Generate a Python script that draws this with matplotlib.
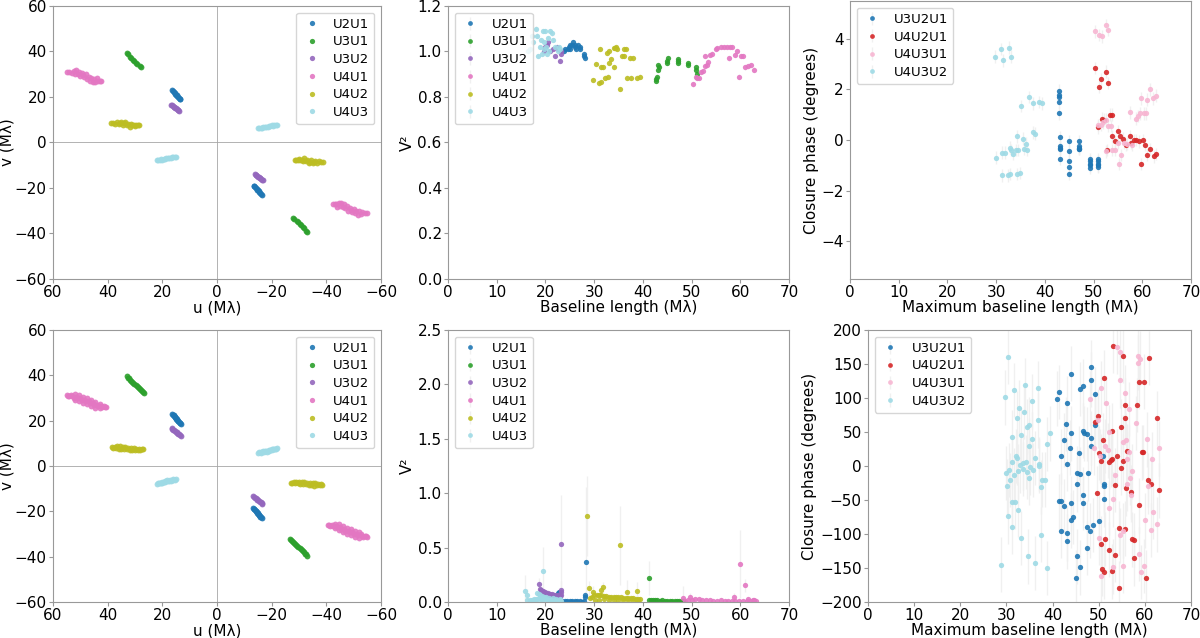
import matplotlib.pyplot as plt
import numpy as np

# ---------------- data ----------------
baselines = ["U2U1", "U3U1", "U3U2", "U4U1", "U4U2", "U4U3"]
triangles = ["U3U2U1", "U4U2U1", "U4U3U1", "U4U3U2"]
bl_colors = ["#1f77b4", "#2ca02c", "#9467bd", "#e377c2", "#bcbd22", "#9edae5"]
cp_colors = ["#1f77b4", "#d62728", "#f7b6d2", "#9edae5"]

# uv coverage, top row (only one half; the other half is the mirror)
uv_top_u = [
    [16.3, 16.0, 15.8, 15.5, 15.3, 15.0, 14.8, 14.5, 14.2, 14.0, 13.7, 13.5],
    [33.0, 32.6, 31.8, 31.4, 30.7, 30.3, 29.6, 29.2, 28.2, 27.8],
    [16.8, 16.5, 16.2, 15.9, 15.6, 15.3, 15.0, 14.7, 14.4, 14.1, 13.8],
    [55.0, 54.0, 53.2, 52.5, 52.0, 51.5, 51.0, 50.5, 50.0, 49.5, 49.0, 48.5,
     48.0, 47.5, 47.0, 46.5, 46.0, 45.5, 45.0, 44.5, 44.0, 43.5, 43.0, 42.5],
    [38.8, 38.0, 37.2, 36.5, 36.0, 35.5, 35.0, 34.5, 34.0, 33.5, 33.0, 32.5,
     32.0, 31.5, 31.0, 30.5, 30.0, 29.5, 29.0, 28.5],
    [22.0, 21.5, 21.0, 20.5, 20.0, 19.5, 19.0, 18.5, 18.0, 17.5, 17.0, 16.5,
     16.0, 15.5, 15.0],
]
uv_top_v = [
    [23.0, 22.6, 22.2, 21.8, 21.4, 21.0, 20.7, 20.3, 19.9, 19.6, 19.3, 19.0],
    [39.4, 39.0, 37.8, 37.3, 36.3, 35.8, 34.9, 34.4, 33.5, 33.0],
    [16.6, 16.3, 16.0, 15.8, 15.5, 15.2, 15.0, 14.7, 14.4, 14.1, 13.9],
    [31.2, 31.0, 30.5, 31.6, 30.2, 31.8, 30.0, 31.0, 29.2, 30.5, 29.5, 28.6,
     30.0, 28.0, 29.0, 27.2, 28.5, 26.5, 27.8, 26.8, 28.3, 27.0, 27.2, 26.9],
    [8.4, 8.6, 8.2, 8.9, 8.0, 8.6, 9.0, 7.8, 8.4, 8.8, 7.5, 8.2,
     7.0, 8.0, 7.6, 7.9, 7.2, 7.7, 7.5, 7.6],
    [-7.8, -7.6, -7.9, -7.3, -7.5, -7.1, -7.3, -6.9, -7.0, -6.6, -6.8, -6.4,
     -6.5, -6.2, -6.2],
]

# uv coverage, bottom row
uv_bot_u = [
    [16.3, 16.1, 15.9, 15.7, 15.5, 15.3, 15.1, 14.9, 14.7, 14.5, 14.3, 14.1,
     13.9, 13.7, 13.5, 13.3],
    [33.0, 32.6, 32.2, 31.8, 31.4, 31.0, 30.6, 30.2, 29.8, 29.4, 29.0, 28.6,
     28.2, 27.8, 27.4, 27.0, 26.6],
    [16.6, 16.3, 16.0, 15.7, 15.4, 15.1, 14.8, 14.5, 14.2, 13.9, 13.6, 13.3],
    [55.0, 53.5, 52.0, 50.5, 49.0, 47.5, 46.0, 44.5, 43.0, 41.5,
     54.0, 52.5, 51.0, 49.5, 48.0, 46.5, 45.0, 43.5, 42.0, 40.5,
     52.0, 50.5, 49.0, 47.5, 46.0, 44.5, 43.0,
     54.5, 53.0, 51.5, 50.0, 48.5, 47.0, 45.5, 44.0, 42.5, 41.0],
    [38.5, 37.5, 36.5, 35.5, 34.5, 33.5, 32.5, 31.5, 30.5, 29.5, 28.5, 27.5,
     38.0, 37.0, 36.0, 35.0, 34.0, 33.0, 32.0, 31.0, 30.0, 29.0, 28.0, 27.2],
    [22.0, 21.5, 21.0, 20.5, 20.0, 19.5, 19.0, 18.5, 18.0, 17.5, 17.0, 16.5,
     16.0, 15.5, 15.0, 21.2, 20.2, 19.2, 18.2, 17.2, 16.2],
]
uv_bot_v = [
    [23.0, 22.7, 22.4, 22.1, 21.8, 21.5, 21.2, 20.9, 20.6, 20.3, 20.0, 19.7,
     19.4, 19.1, 18.8, 18.5],
    [39.5, 39.0, 38.6, 38.1, 37.7, 37.2, 36.8, 36.3, 35.9, 35.4, 35.0, 34.5,
     34.1, 33.6, 33.2, 32.7, 32.2],
    [16.6, 16.3, 16.0, 15.7, 15.5, 15.2, 14.9, 14.6, 14.3, 14.0, 13.7, 13.4],
    [31.2, 31.5, 31.8, 31.3, 30.5, 29.8, 29.0, 28.2, 27.3, 26.5,
     30.8, 30.2, 29.8, 29.2, 28.5, 27.8, 27.0, 26.3, 26.0, 26.0,
     29.2, 28.8, 28.0, 27.2, 26.5, 25.5, 25.5,
     31.0, 30.8, 30.5, 30.0, 29.3, 28.5, 27.6, 26.8, 26.4, 26.2],
    [8.5, 8.4, 8.6, 8.8, 8.4, 8.3, 8.0, 7.9, 7.8, 7.6, 7.5, 7.4,
     7.8, 7.9, 7.7, 7.6, 7.5, 7.3, 7.2, 7.0, 7.1, 7.0, 7.2, 7.3],
    [-7.9, -7.7, -7.6, -7.4, -7.3, -7.1, -7.0, -6.8, -6.7, -6.5, -6.4, -6.2,
     -6.1, -6.0, -5.9, -7.3, -7.0, -6.6, -6.3, -6.0, -5.8],
]

# squared visibilities, top row
v2_top_x = [
    [23.8, 24.0, 24.6, 24.8, 25.0, 25.5, 25.7, 26.0, 26.0, 26.7, 27.0, 27.2,
     28.0, 28.1, 27.9, 26.2, 25.0],
    [42.8, 42.8, 42.9, 43.2, 43.2, 43.3, 45.0, 45.0, 45.1, 47.2, 47.2, 47.3,
     49.2, 49.3, 51.0, 51.0, 51.1],
    [19.8, 20.0, 20.3, 20.6, 21.0, 21.5, 22.0, 22.3, 22.6, 23.0, 23.2, 23.3],
    [50.3, 50.9, 51.2, 51.6, 52.0, 52.3, 52.7, 52.8, 53.1, 53.4, 53.8, 54.2,
     55.0, 55.3, 56.0, 56.7, 57.2, 57.8, 57.6, 58.2, 59.0, 59.3, 59.8, 60.2,
     60.6, 61.0, 61.5, 62.3, 62.9],
    [29.8, 30.3, 30.9, 31.2, 31.4, 31.5, 31.8, 32.3, 32.6, 32.8, 33.0, 33.1,
     33.4, 34.0, 34.2, 34.4, 34.6, 34.1, 35.3, 35.7, 36.2, 36.2, 36.6, 36.8,
     37.5, 37.4, 38.0, 38.8, 39.5],
    [16.5, 16.8, 17.3, 17.5, 18.0, 18.2, 18.5, 18.8, 19.0, 19.3, 19.5, 19.7,
     20.0, 20.2, 20.5, 20.8, 21.0, 21.3, 21.5, 22.0, 22.5, 22.8, 23.0, 19.8,
     20.3],
]
v2_top_y = [
    [1.00, 1.01, 1.01, 1.02, 1.03, 1.03, 1.04, 1.03, 1.02, 1.03, 1.02, 1.01,
     0.98, 0.97, 0.99, 1.01, 1.01],
    [0.87, 0.88, 0.89, 0.92, 0.94, 0.93, 0.95, 0.96, 0.97, 0.95, 0.96, 0.965,
     0.94, 0.95, 0.92, 0.93, 0.90],
    [1.00, 1.02, 1.03, 1.04, 1.00, 1.01, 0.98, 1.02, 1.01, 0.96, 0.99, 1.00],
    [0.855, 0.89, 0.885, 0.885, 0.91, 0.915, 0.935, 0.98, 0.94, 0.955, 0.985,
     0.99, 1.01, 1.015, 1.02, 1.02, 1.02, 1.02, 0.97, 1.02, 0.985, 1.00, 0.89,
     0.98, 0.98, 0.93, 0.935, 0.94, 0.92],
    [0.875, 0.945, 0.86, 1.01, 0.93, 0.865, 0.93, 0.885, 0.995, 0.89, 0.95,
     1.00, 0.965, 1.015, 1.015, 1.02, 1.01, 0.93, 0.835, 0.98, 0.98, 1.01,
     1.01, 0.885, 0.885, 0.97, 0.97, 0.885, 0.89],
    [1.00, 1.01, 1.07, 1.04, 1.10, 1.07, 0.98, 1.02, 1.05, 0.99, 1.09, 1.04,
     1.09, 1.02, 1.06, 1.00, 1.09, 1.08, 1.05, 1.02, 1.00, 1.02, 1.01, 1.01,
     0.99],
]
v2_top_err = 0.01

# squared visibilities, bottom row
v2_bot_x = [
    [23.5, 24.0, 24.5, 25.0, 25.5, 26.0, 26.5, 27.0, 27.5, 28.0,
     22.5, 22.8, 28.1, 28.2, 28.3],
    [41.2, 41.6, 42.0, 42.5, 43.0, 43.5, 44.0, 44.5, 45.0, 45.5, 46.0, 46.5,
     47.0, 47.5, 48.0, 48.5, 41.3],
    [18.8, 19.0, 19.3, 19.6, 19.9, 20.2, 20.6, 21.0, 21.4, 21.8, 22.2, 22.6,
     23.0, 23.3, 19.2, 19.6, 20.0, 20.5, 21.0, 21.5, 22.0, 22.5, 23.0,
     18.75, 23.1, 23.2, 23.3],
    [48.6, 49.2, 50.0, 50.8, 51.5, 52.2, 53.0, 53.8, 54.5, 55.3, 56.0, 56.8,
     57.5, 58.3, 59.0, 59.8, 60.5, 61.3, 62.0, 62.8, 63.2,
     48.2, 49.7, 58.7, 59.9, 61.0, 61.6, 62.6],
    [29.2, 29.6, 30.0, 30.5, 31.0, 31.5, 32.0, 32.5, 33.0, 33.5, 34.0, 34.5,
     35.0, 35.5, 36.0, 36.5, 37.0, 37.5, 38.0, 38.5, 39.0, 39.5,
     30.2, 31.0, 32.0, 33.0, 34.0, 35.0, 36.0, 37.0, 38.0, 39.0,
     28.5, 35.4, 29.0, 29.8, 31.4, 31.8, 36.8, 38.9],
    [16.3, 16.8, 17.2, 17.6, 18.0, 18.3, 18.6, 19.0, 19.4, 19.8, 20.2, 20.6,
     21.0, 21.4, 21.8, 22.2, 22.6, 23.0, 23.3,
     18.3, 18.6, 18.9, 19.3, 19.7, 20.2, 20.8, 21.5, 22.2, 23.0,
     15.9, 16.2, 19.6],
]
v2_bot_y = [
    [0.008, 0.006, 0.007, 0.005, 0.006, 0.005, 0.006, 0.005, 0.004, 0.006,
     0.085, 0.095, 0.045, 0.06, 0.37],
    [0.02, 0.015, 0.02, 0.015, 0.02, 0.01, 0.015, 0.01, 0.01, 0.008, 0.01,
     0.008, 0.008, 0.006, 0.005, 0.005, 0.224],
    [0.12, 0.11, 0.105, 0.10, 0.09, 0.085, 0.08, 0.075, 0.07, 0.065, 0.06,
     0.06, 0.055, 0.06, 0.09, 0.08, 0.07, 0.065, 0.06, 0.055, 0.05, 0.045,
     0.05, 0.17, 0.53, 0.11, 0.09],
    [0.01, 0.015, 0.02, 0.03, 0.025, 0.02, 0.015, 0.015, 0.01, 0.012, 0.02,
     0.01, 0.01, 0.008, 0.01, 0.012, 0.008, 0.01, 0.006, 0.015, 0.005,
     0.034, 0.05, 0.05, 0.35, 0.156, 0.03, 0.02],
    [0.04, 0.05, 0.06, 0.065, 0.06, 0.06, 0.055, 0.055, 0.05, 0.05, 0.05,
     0.045, 0.045, 0.045, 0.04, 0.04, 0.04, 0.035, 0.035, 0.03, 0.03, 0.025,
     0.02, 0.02, 0.025, 0.02, 0.02, 0.015, 0.015, 0.015, 0.01, 0.01,
     0.79, 0.52, 0.125, 0.095, 0.107, 0.138, 0.089, 0.104],
    [0.02, 0.015, 0.02, 0.025, 0.03, 0.02, 0.04, 0.03, 0.02, 0.035, 0.015,
     0.02, 0.02, 0.015, 0.02, 0.01, 0.015, 0.02, 0.01,
     0.08, 0.07, 0.06, 0.055, 0.05, 0.045, 0.04, 0.035, 0.03, 0.03,
     0.10, 0.067, 0.285],
]
v2_bot_err = [
    [0.01] * 10 + [0.02, 0.03, 0.03, 0.03, 0.69],
    [0.01] * 16 + [0.155],
    [0.01] * 23 + [0.05, 0.45, 0.08, 0.05],
    [0.01] * 21 + [0.11, 0.03, 0.03, 0.31, 0.06, 0.02, 0.02],
    [0.01] * 32 + [0.37, 0.36, 0.07, 0.05, 0.05, 0.05, 0.11, 0.08],
    [0.01] * 29 + [0.15, 0.05, 0.22],
]

# closure phases, top row
cp_top_x = [
    [42.9, 42.9, 42.9, 42.9, 42.9, 43.2, 43.2, 43.2, 43.2, 43.2,
     45.0, 45.0, 45.0, 45.0, 45.0, 47.1, 47.1, 47.1, 47.1, 47.1,
     49.3, 49.3, 49.3, 49.3, 49.3, 51.0, 51.0, 51.0, 51.0, 51.0],
    [50.3, 52.6, 51.2, 53.0, 51.6, 51.8, 52.2, 53.3, 53.7, 51.0, 52.8, 53.8,
     54.3, 55.0, 55.4, 56.0, 56.7, 57.5, 57.7, 58.2, 58.8, 59.4, 60.2, 60.6,
     61.0, 61.5, 59.8, 62.4, 62.8],
    [50.2, 51.2, 51.7, 52.6, 52.9, 51.0, 51.5, 52.0, 52.5, 53.0, 53.5, 52.5,
     53.8, 54.3, 55.0, 55.2, 55.6, 56.2, 56.8, 57.5, 57.8, 58.8, 59.2, 59.5,
     59.8, 60.4, 60.8, 61.0, 61.5, 62.3, 62.8],
    [29.8, 31.0, 31.5, 32.6, 33.1, 35.2, 36.8, 37.5, 38.7, 39.5, 30.0, 31.2,
     31.8, 32.8, 33.1, 33.5, 34.0, 34.3, 34.5, 35.5, 35.8, 36.2, 36.4, 37.5,
     38.0, 31.2, 32.5, 32.9, 34.3, 34.8],
]
cp_top_y = [
    [1.05, 1.5, 1.7, 1.8, 1.95, 0.1, -0.25, -0.3, -0.35, -0.75,
     -0.05, -0.45, -0.85, -1.05, -1.35, -0.05, -0.25, -0.3, -0.35, -0.35,
     -0.75, -0.85, -0.95, -1.0, -1.1, -0.75, -0.85, -0.95, -1.05, -1.0],
    [2.85, 2.7, 2.1, 2.25, 2.4, 0.85, 0.8, 1.0, 1.0, 0.5, -0.4, 0.15, -0.05,
     0.35, 0.15, 0.05, -0.2, 0.15, -0.1, 0.0, 0.0, -0.05, 0.0, -0.2, -0.6,
     -0.35, -0.95, -0.65, -0.55],
    [4.3, 4.15, 4.1, 4.55, 4.35, 0.6, 0.6, 0.7, 0.8, 0.55, 0.55, -0.45, -0.4,
     -0.4, -0.1, -0.95, -0.6, -0.1, -0.15, 1.1, -0.2, 0.85, 0.95, 1.05, 1.65,
     1.05, 1.05, 1.6, 2.0, 1.65, 1.75],
    [3.3, 3.6, 3.15, 3.65, 3.3, 1.35, 1.7, 1.45, 1.5, 1.45, -0.7, -0.5, -0.5,
     -0.3, -0.4, -0.55, -0.4, 0.15, -0.4, 0.05, -0.35, -0.15, -0.4, 0.3, 0.25,
     -1.4, -1.4, -1.35, -1.35, -1.3],
]
cp_top_err = 0.25

# closure phases, bottom row
cp_bot_x = [
    [48.4, 48.3, 43.9, 41.3, 41.0, 46.0, 46.7, 43.2, 49.2, 49.3, 43.0, 43.9,
     42.5, 46.7, 46.8, 47.4, 48.4, 48.3, 43.8, 45.8, 41.9, 43.2, 51.0, 45.4,
     46.0, 47.6, 45.3, 51.1, 51.1, 46.7, 51.2, 41.3, 41.8, 42.5, 43.9, 46.7,
     44.5, 44.0, 50.0, 48.8, 47.4, 41.9, 48.1, 43.1, 43.1, 47.5, 45.3, 46.0,
     45.1],
    [53.0, 55.3, 61.0, 51.2, 58.8, 59.8, 49.8, 55.8, 58.2, 62.6, 49.2, 55.7,
     54.8, 52.8, 51.0, 50.0, 52.3, 52.6, 52.8, 50.4, 53.9, 55.3, 56.1, 59.4,
     59.6, 54.8, 53.6, 49.6, 60.7, 61.4, 63.0, 57.0, 56.0, 58.8, 54.4, 55.6,
     57.2, 57.6, 51.4, 50.4, 52.3, 53.6, 57.6, 50.7, 51.2, 52.9, 60.3, 54.5],
    [54.0, 54.7, 58.6, 59.0, 58.5, 54.7, 50.4, 48.1, 51.6, 55.8, 56.6, 58.1,
     49.8, 52.3, 51.4, 52.0, 49.0, 50.3, 55.3, 56.0, 56.6, 56.2, 61.5, 63.0,
     60.5, 53.6, 56.7, 57.2, 56.2, 60.6, 57.1, 53.1, 52.3, 61.7, 60.1, 62.7,
     61.4, 55.2, 54.7, 50.0, 58.8, 53.1, 55.3, 59.9, 59.2, 50.6],
    [30.3, 29.8, 31.7, 34.1, 36.9, 35.6, 32.2, 32.7, 33.9, 31.3, 33.1, 34.5,
     35.0, 35.6, 34.9, 36.8, 38.7, 39.5, 31.3, 32.1, 32.3, 33.0, 33.5, 34.2,
     34.5, 35.2, 35.8, 36.3, 37.0, 37.0, 37.8, 38.3, 30.0, 30.6, 31.6, 32.5,
     33.6, 34.8, 30.2, 30.8, 37.4, 31.2, 31.8, 30.4, 32.5, 31.3, 33.1, 37.6,
     34.7, 36.2, 28.9, 38.9],
]
cp_bot_y = [
    [145, 127, 136, 109, 99, 113, 118, 92, 106, 60, 62, 48, 38, 52, 48, 47,
     41, 30, 27, 19, 14, 3, 15, -11, -12, -11, -27, -27, -30, -42, -49, -52,
     -51, -59, -55, -54, -75, -80, -81, -87, -90, -96, -95, -99, -111, -121,
     -133, -149, -164],
    [177, 162, 159, 130, 124, 124, 73, 89, 90, 70, 65, 71, 58, 52, 38, 19, 6,
     9, 10, 7, 14, 7, 22, 20, 21, -3, -28, -40, -21, -26, -36, -38, -33, -58,
     -91, -92, -108, -109, -107, -114, -123, -131, -136, -151, -156, -155,
     -164, -179],
    [175, 167, 161, 158, 152, 126, 114, 99, 92, 108, 84, 63, 67, 50, 29, 23,
     27, 15, 35, 38, 20, 11, 10, 26, 39, -13, -18, -8, -26, -30, -43, -49,
     -62, -67, -80, -86, -94, -95, -102, -106, -129, -148, -147, -147, -156,
     -162],
    [160, 101, 112, 119, 115, 95, 70, 86, 79, 43, 45, 58, 61, 40, 30, 67, 32,
     48, 6, 15, 12, 1, 4, 6, -9, -2, -6, 12, 3, 0, -20, -20, -10, -6, -13,
     -8, -4, -18, -30, -21, -31, -53, -53, -74, -64, -90, -106, -101, -133,
     -143, -145, -150],
]
cp_bot_err = 40

# ---------------- plotting ----------------
plt.rcParams["font.size"] = 11
plt.rcParams["axes.edgecolor"] = "0.6"

fig = plt.figure(figsize=(12, 6.38), dpi=100)

ax_uv1 = fig.add_axes([0.0442, 0.5627, 0.2733, 0.4279])
ax_v21 = fig.add_axes([0.3733, 0.5627, 0.2842, 0.4279])
ax_cp1 = fig.add_axes([0.7083, 0.5627, 0.2842, 0.4357])
ax_uv2 = fig.add_axes([0.0442, 0.0564, 0.2733, 0.4264])
ax_v22 = fig.add_axes([0.3733, 0.0564, 0.2842, 0.4264])
ax_cp2 = fig.add_axes([0.7233, 0.0564, 0.2692, 0.4264])

ms = 3.8
ecol = "#efefef"
leg_kw = dict(fontsize=9.5, markerscale=0.9, labelspacing=0.35,
              handlelength=1.6, borderpad=0.4)


def plot_uv(ax, us, vs):
    ax.axhline(0, color="0.65", lw=0.6, zorder=0)
    ax.axvline(0, color="0.65", lw=0.6, zorder=0)
    for name, c, u, v in zip(baselines, bl_colors, us, vs):
        u = np.array(u)
        v = np.array(v)
        ax.plot(np.concatenate([u, -u]), np.concatenate([v, -v]), "o",
                color=c, ms=ms + 0.4, alpha=0.9, mec="none", label=name)
    ax.set_xlim(60, -60)
    ax.set_ylim(-60, 60)
    ax.set_xticks(np.arange(60, -61, -20))
    ax.set_yticks(np.arange(-60, 61, 20))
    ax.set_xlabel("u (M\u03bb)", labelpad=0)
    ax.set_ylabel("v (M\u03bb)", labelpad=0)
    ax.legend(loc="upper right", **leg_kw)


def plot_err(ax, names, colors, xs, ys, errs):
    for i, (name, c, x, y) in enumerate(zip(names, colors, xs, ys)):
        e = errs[i] if isinstance(errs, list) else errs
        ax.errorbar(x, y, yerr=e, fmt="o", color=c, ms=ms, alpha=0.9,
                    mec="none", ecolor=ecol, elinewidth=1, label=name)
    ax.set_xlim(0, 70)
    ax.legend(loc="upper left", **leg_kw)


plot_uv(ax_uv1, uv_top_u, uv_top_v)
plot_uv(ax_uv2, uv_bot_u, uv_bot_v)

plot_err(ax_v21, baselines, bl_colors, v2_top_x, v2_top_y, v2_top_err)
ax_v21.set_ylim(0, 1.2)
ax_v21.set_xlabel("Baseline length (M\u03bb)", labelpad=0)
ax_v21.set_ylabel("V\u00b2", labelpad=2)

plot_err(ax_v22, baselines, bl_colors, v2_bot_x, v2_bot_y, v2_bot_err)
ax_v22.set_ylim(0, 2.5)
ax_v22.set_xlabel("Baseline length (M\u03bb)", labelpad=0)
ax_v22.set_ylabel("V\u00b2", labelpad=2)

plot_err(ax_cp1, triangles, cp_colors, cp_top_x, cp_top_y, cp_top_err)
ax_cp1.set_ylim(-5.5, 5.5)
ax_cp1.set_xlabel("Maximum baseline length (M\u03bb)", labelpad=0)
ax_cp1.set_ylabel("Closure phase (degrees)", labelpad=2)

plot_err(ax_cp2, triangles, cp_colors, cp_bot_x, cp_bot_y, cp_bot_err)
ax_cp2.set_ylim(-200, 200)
ax_cp2.set_xlabel("Maximum baseline length (M\u03bb)", labelpad=0)
ax_cp2.set_ylabel("Closure phase (degrees)", labelpad=2)

for ax in fig.axes:
    ax.tick_params(labelsize=11, labelcolor="black", color="0.6",
                   length=3, pad=1.5)

fig.savefig("out.png", dpi=100)
